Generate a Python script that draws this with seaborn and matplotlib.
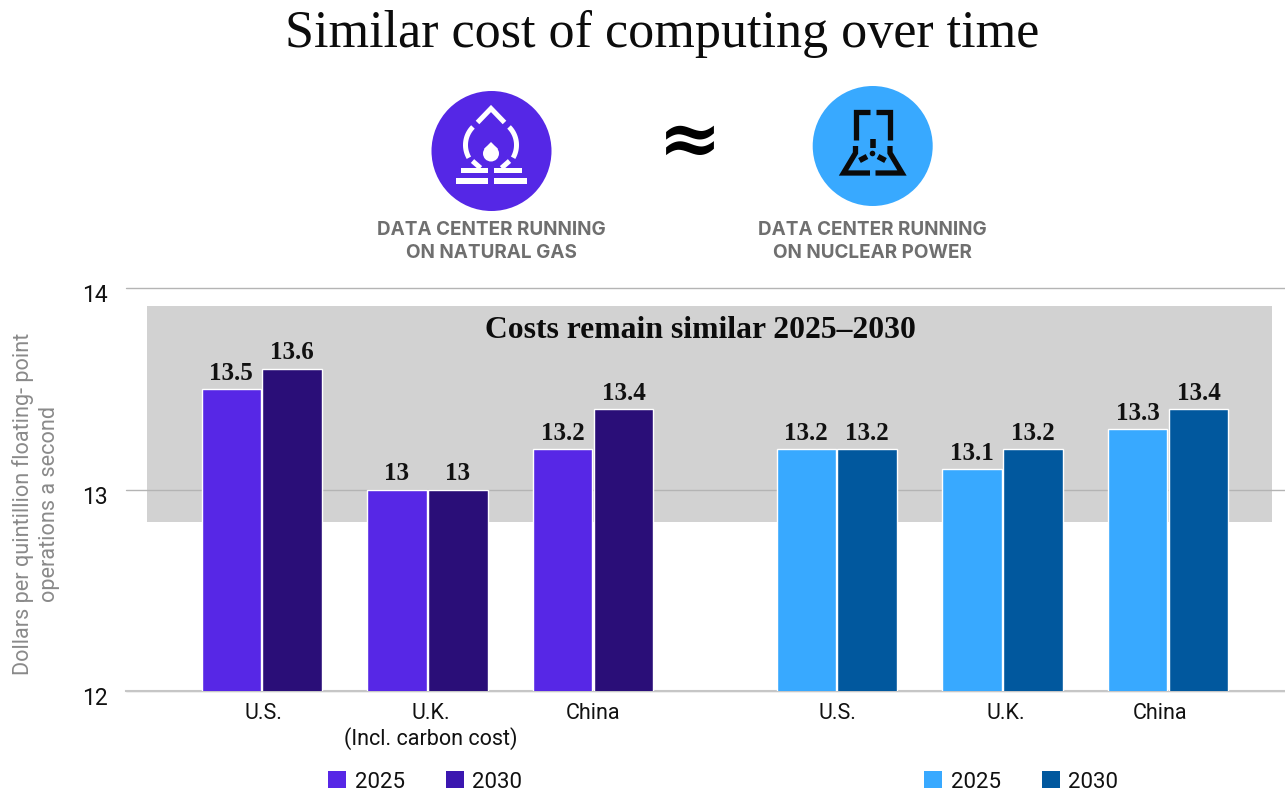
import numpy as np
import pandas as pd
import matplotlib
matplotlib.use("Agg")
import matplotlib.pyplot as plt
from matplotlib.patches import Patch, Rectangle, Circle, Polygon
from matplotlib.transforms import ScaledTranslation
import seaborn as sns

tick_labels = ["U.S.", "U.K.\n(Incl. carbon cost)", "China", "U.S.", "U.K.", "China"]
gas_2025 = [13.5, 13.0, 13.2]
gas_2030 = [13.6, 13.0, 13.4]
nuclear_2025 = [13.2, 13.1, 13.3]
nuclear_2030 = [13.2, 13.2, 13.4]
years = ["2025", "2030"]

W, H = 1285, 795
SERIF = ["Liberation Serif", "DejaVu Serif"]
GAS_COLORS = {"2025": "#5727e6", "2030": "#2a0e78"}
NUCLEAR_COLORS = {"2025": "#38a9ff", "2030": "#01589e"}


def make_frame(slots, v25, v30):
    return pd.DataFrame({
        "slot": slots * 2,
        "year": ["2025"] * 3 + ["2030"] * 3,
        "cost": v25 + v30,
    })


sns.set_theme(style="white")
plt.rcParams["font.family"] = ["Roboto", "DejaVu Sans"]

fig = plt.figure(figsize=(W / 100, H / 100), dpi=100, facecolor="white")
ax = fig.add_axes([126 / W, 1 - 691 / H, (W - 126) / W, (691 - 288) / H])

# one x unit is one country group, the gap between the two sources is wider
to_slot = lambda px: (px - 261.7) / 165.7
to_cost = lambda px: 12 + (691 - px) / 201.5
gas_slots = [0.0, 1.0, 2.0]
nuclear_slots = [3.47, 4.47, 5.47]

for slots, v25, v30, pal in [(gas_slots, gas_2025, gas_2030, GAS_COLORS),
                             (nuclear_slots, nuclear_2025, nuclear_2030, NUCLEAR_COLORS)]:
    sns.barplot(data=make_frame(slots, v25, v30), x="slot", y="cost", hue="year",
                palette=pal, native_scale=True, width=0.735, gap=0.025, errorbar=None,
                saturation=1, edgecolor="white", linewidth=1.0, legend=False, ax=ax)

for cont in ax.containers:
    ax.bar_label(cont, fmt="%g", padding=3, fontsize=18, fontweight="bold",
                 family=SERIF, color="#111111")

ax.set_xlim(to_slot(126), to_slot(W))
ax.set_ylim(12, 14)
ax.set_yticks([12, 13, 14])
ax.set_xticks([to_slot(p) for p in [263, 431, 593, 837, 1006, 1160]], tick_labels)
ax.set_xlabel("")
ax.set_ylabel("")
ax.tick_params(axis="x", length=0, pad=8.5, labelsize=15.5, labelcolor="#111111")
ax.tick_params(axis="y", length=0, pad=13, labelsize=16.5, labelcolor="#111111")
# y tick numbers sit a little below their gridline
shift = ScaledTranslation(0, -5 / 100, fig.dpi_scale_trans)
for lab in ax.get_yticklabels():
    lab.set_transform(lab.get_transform() + shift)
ax.set_axisbelow(True)
ax.grid(axis="y", color="#b4b4b4", lw=1)
ax.grid(axis="x", visible=False)
for g in ax.yaxis.get_gridlines():
    g.set_clip_on(False)
sns.despine(ax=ax, left=True)
ax.spines["bottom"].set_color("#c6c6c6")
ax.spines["bottom"].set_linewidth(1.5)
ax.spines["bottom"].set_zorder(0.6)

# gray band behind the bars
ax.add_patch(Rectangle((to_slot(147), to_cost(522)), to_slot(1272) - to_slot(147),
                       to_cost(306) - to_cost(522), facecolor="#d2d2d2",
                       edgecolor="none", zorder=0.2))

# overlay in pixel coordinates for the header and icons
top = fig.add_axes([0, 0, 1, 1], facecolor="none")
top.set_xlim(0, W)
top.set_ylim(H, 0)
top.axis("off")

top.text(662, 34, "Similar cost of computing over time", ha="center", va="center",
         fontsize=37.5, family=SERIF, color="#0c0c0c")
top.text(700.5, 331, "Costs remain similar 2025\u20132030", ha="center", va="center",
         fontsize=22.8, fontweight="bold", family=SERIF, color="#0c0c0c")
top.text(690, 143, "\u2248", ha="center", va="center", fontsize=55, fontweight="bold",
         family=["DejaVu Serif"], color="black")

for cx, lines in [(491, ["DATA CENTER RUNNING", "ON NATURAL GAS"]),
                  (872.5, ["DATA CENTER RUNNING", "ON NUCLEAR POWER"])]:
    for y, line in zip([230, 253], lines):
        top.text(cx, y, line, ha="center", va="center", fontsize=13.6, fontweight="bold",
                 family=["Inter", "DejaVu Sans"], color="#6f6f6f")

top.text(36, 504, "Dollars per quintillion floating- point\noperations a second", rotation=90,
         ha="center", va="center", fontsize=15.6, family=["Roboto", "DejaVu Sans"],
         color="#8a8a8a", linespacing=1.32)


def stroke(xs, ys, color, lw=3.0):
    top.plot(xs, ys, color=color, lw=lw, solid_capstyle="butt", solid_joinstyle="miter")


def arc(cx, cy, r, a0, a1, color, lw=3.0):
    t = np.radians(np.linspace(a0, a1, 40))
    stroke(cx + r * np.cos(t), cy + r * np.sin(t), color, lw)


# gas icon
top.add_patch(Circle((491.5, 151), 60, facecolor="#5527e6", edgecolor="none"))
stroke([477.5, 491, 504.5], [122.5, 108.5, 122.5], "white", 3.6)
arc(491, 145, 25.5, 150, 225, "white", 3.6)
arc(491, 145, 25.5, -45, 30, "white", 3.6)
top.add_patch(Circle((491, 153.5), 8, facecolor="white", edgecolor="none"))
top.add_patch(Polygon([[484, 149], [491, 142], [498, 149]], facecolor="white", edgecolor="none"))
stroke([472.5, 480.5], [161, 168], "white", 3.6)
stroke([509.5, 501.5], [161, 168], "white", 3.6)
for x0, x1, y0, y1 in [(461, 488, 167.7, 172.7), (494, 521.7, 167.7, 172.7),
                       (455.7, 488.3, 178.3, 184), (494, 527, 178.3, 184)]:
    top.add_patch(Rectangle((x0, y0), x1 - x0, y1 - y0, facecolor="white", edgecolor="none"))

# nuclear icon
top.add_patch(Circle((872.7, 146), 60, facecolor="#38a9ff", edgecolor="none"))
stroke([870, 855.5, 855.5], [112, 112, 140], "#0a0a0a", 3.8)
stroke([875.5, 890, 890], [112, 112, 140], "#0a0a0a", 3.8)
stroke([855.5, 855.5, 843.5, 870], [146, 153, 173, 173], "#0a0a0a", 3.8)
stroke([890, 890, 902, 875.5], [146, 153, 173, 173], "#0a0a0a", 3.8)
top.add_patch(Circle((872.5, 153.5), 2.8, facecolor="#0a0a0a", edgecolor="none"))
stroke([872.5, 872.5], [139, 147.5], "#0a0a0a", 4)
stroke([859.5, 867], [160.5, 156.5], "#0a0a0a", 4)
stroke([885.5, 878], [160.5, 156.5], "#0a0a0a", 4)

# legends
for anchor, colors in [(328, {"2025": "#5727e6", "2030": "#3b17b0"}),
                       (924, {"2025": "#38a9ff", "2030": "#01589e"})]:
    handles = [Patch(facecolor=colors[y], edgecolor="none", label=y) for y in years]
    fig.legend(handles=handles, loc="center left", bbox_to_anchor=(anchor / W, 1 - 782 / H),
               ncols=2, frameon=False, fontsize=16, borderpad=0, borderaxespad=0,
               handlelength=0.8, handleheight=0.8, handletextpad=0.4, columnspacing=1.85,
               labelcolor="#111111")

fig.savefig("out.png", dpi=100)
